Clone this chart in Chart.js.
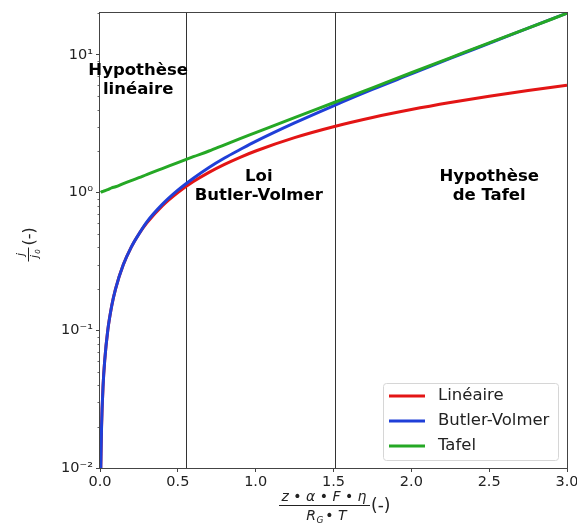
<!DOCTYPE html>
<html>
<head>
<meta charset="utf-8">
<script src="https://cdn.jsdelivr.net/npm/chart.js@4.4.1/dist/chart.umd.min.js"></script>
<style>
  html, body { margin: 0; padding: 0; background: #fff; }
  canvas { display: block; }
</style>
</head>
<body>
<canvas id="chart" width="577" height="525"></canvas>
<script>
// values
const etaValues = [0.005, 0.01, 0.02, 0.03, 0.05, 0.075, 0.1, 0.15, 0.2, 0.25, 0.3, 0.4, 0.5,
  0.6, 0.7, 0.8, 0.9, 1.0, 1.25, 1.5, 1.75, 2.0, 2.25, 2.5, 2.75, 3.0];
const lineaire = [0.01, 0.02, 0.04, 0.06, 0.1, 0.15, 0.2, 0.3, 0.4, 0.5, 0.6, 0.8, 1.0,
  1.2, 1.4, 1.6, 1.8, 2.0, 2.5, 3.0, 3.5, 4.0, 4.5, 5.0, 5.5, 6.0];
const butlerVolmer = [0.01, 0.02, 0.04, 0.06, 0.1, 0.15, 0.2, 0.3, 0.4, 0.5, 0.61, 0.82, 1.04,
  1.27, 1.52, 1.78, 2.05, 2.35, 3.2, 4.26, 5.6, 7.25, 9.4, 12.1, 15.6, 20.0];
const tafel = [1.0, 1.01, 1.02, 1.03, 1.05, 1.08, 1.1, 1.16, 1.22, 1.28, 1.35, 1.49, 1.65,
  1.82, 2.0, 2.22, 2.46, 2.72, 3.5, 4.48, 5.75, 7.4, 9.5, 12.2, 15.6, 20.0];

const seriesLabels = ['Linéaire', 'Butler-Volmer', 'Tafel'];
const seriesColors = ['#e31515', '#1f3fd8', '#25a825'];

const xTicks = [0, 0.5, 1.0, 1.5, 2.0, 2.5, 3.0];
const yDecades = [0.01, 0.1, 1, 10];
const yDecadeLabels = ['10⁻²', '10⁻¹', '10⁰', '10¹'];
const regionBounds = [0.55, 1.51];

// region annotations: [x, y, lines]
const regionNotes = [
  [0.245, 7.6, ['Hypothèse', 'linéaire']],
  [1.02, 1.3, ['Loi', 'Butler-Volmer']],
  [2.5, 1.3, ['Hypothèse', 'de Tafel']]
];

const FONT = '"DejaVu Sans", sans-serif';

function toPoints(ys) {
  return etaValues.map((x, i) => ({ x: x, y: ys[i] }));
}

// red drawn first, then blue, green on top
const datasets = [lineaire, butlerVolmer, tafel].map((ys, i) => ({
  label: seriesLabels[i],
  data: toPoints(ys),
  borderColor: seriesColors[i],
  backgroundColor: seriesColors[i],
  borderWidth: 3,
  pointRadius: 0,
  cubicInterpolationMode: 'monotone',
  fill: false,
  order: 3 - i
}));

// frame, region lines, minor ticks, notes, legend and axis titles
const decorPlugin = {
  id: 'decor',
  beforeDatasetsDraw(chart) {
    const { ctx, chartArea: a, scales: { x } } = chart;
    ctx.save();
    ctx.strokeStyle = '#333';
    ctx.lineWidth = 1;
    regionBounds.forEach(v => {
      const px = Math.round(x.getPixelForValue(v)) + 0.5;
      ctx.beginPath();
      ctx.moveTo(px, a.top);
      ctx.lineTo(px, a.bottom);
      ctx.stroke();
    });
    ctx.restore();
  },
  afterDatasetsDraw(chart) {
    const { ctx, chartArea: a, scales: { x, y } } = chart;
    ctx.save();
    // axes frame
    ctx.strokeStyle = '#444';
    ctx.lineWidth = 1;
    ctx.strokeRect(Math.round(a.left) - 0.5, Math.round(a.top) - 0.5,
      Math.round(a.right - a.left) + 1, Math.round(a.bottom - a.top) + 1);

    // minor log ticks
    ctx.lineWidth = 0.8;
    yDecades.forEach(d => {
      for (let m = 2; m <= 9; m++) {
        const v = d * m;
        if (v > y.max) break;
        const py = Math.round(y.getPixelForValue(v)) + 0.5;
        ctx.beginPath();
        ctx.moveTo(a.left, py);
        ctx.lineTo(a.left - 2.5, py);
        ctx.stroke();
      }
    });

    // region notes
    ctx.fillStyle = '#000';
    ctx.font = 'bold 16.5px ' + FONT;
    ctx.textAlign = 'center';
    ctx.textBaseline = 'middle';
    regionNotes.forEach(([vx, vy, lines]) => {
      const px = x.getPixelForValue(vx);
      const py = y.getPixelForValue(vy);
      lines.forEach((t, i) => ctx.fillText(t, px, py + i * 19));
    });
    ctx.restore();
  },
  afterDraw(chart) {
    const { ctx, chartArea: a } = chart;
    ctx.save();

    // legend box (lower right)
    const bx = 383, by = 383, bw = 175, bh = 77;
    ctx.fillStyle = 'rgba(255,255,255,0.85)';
    ctx.strokeStyle = '#d6d6d6';
    ctx.lineWidth = 1;
    ctx.beginPath();
    ctx.roundRect(bx + 0.5, by + 0.5, bw, bh, 3);
    ctx.fill();
    ctx.stroke();
    ctx.font = '16.5px ' + FONT;
    ctx.textAlign = 'left';
    ctx.textBaseline = 'middle';
    // legend rows follow the series order
    [0, 1, 2].forEach(i => {
      const ds = chart.data.datasets[i];
      const ly = by + 13 + i * 25;
      ctx.strokeStyle = ds.borderColor;
      ctx.lineWidth = 3;
      ctx.beginPath();
      ctx.moveTo(bx + 6, ly);
      ctx.lineTo(bx + 42, ly);
      ctx.stroke();
      ctx.fillStyle = '#222';
      ctx.fillText(ds.label, bx + 55, ly);
    });

    // x axis title: (z·α·F·η)/(R_G·T) (-)
    ctx.fillStyle = '#222';
    const fx = 324, fy = 505;
    ctx.font = 'italic 14px ' + FONT;
    ctx.textAlign = 'center';
    ctx.textBaseline = 'alphabetic';
    ctx.fillText('z • α • F • η', fx, fy - 4);
    ctx.strokeStyle = '#222';
    ctx.lineWidth = 1;
    ctx.beginPath();
    ctx.moveTo(fx - 45, fy + 0.5);
    ctx.lineTo(fx + 46, fy + 0.5);
    ctx.stroke();
    ctx.fillText('R', fx - 13, fy + 15);
    ctx.font = 'italic 9px ' + FONT;
    ctx.fillText('G', fx - 4, fy + 18);
    ctx.font = 'italic 14px ' + FONT;
    ctx.fillText('• T', fx + 12, fy + 15);
    ctx.font = '17px ' + FONT;
    ctx.textAlign = 'left';
    ctx.textBaseline = 'middle';
    ctx.fillText('(-)', fx + 47, fy + 2);

    // y axis title: (j / j0) (-), rotated
    ctx.translate(28, (a.top + a.bottom) / 2 + 4);
    ctx.rotate(-Math.PI / 2);
    ctx.font = 'italic 11px ' + FONT;
    ctx.textAlign = 'center';
    ctx.textBaseline = 'alphabetic';
    ctx.fillText('j', -10, -4);
    ctx.beginPath();
    ctx.moveTo(-17, 0.5);
    ctx.lineTo(-3, 0.5);
    ctx.stroke();
    ctx.fillText('j', -12, 10);
    ctx.font = 'italic 7px ' + FONT;
    ctx.fillText('0', -7, 12);
    ctx.font = '16px ' + FONT;
    ctx.textAlign = 'left';
    ctx.textBaseline = 'middle';
    ctx.fillText('(-)', -1, 2);
    ctx.restore();
  }
};

new Chart(document.getElementById('chart'), {
  type: 'line',
  data: { datasets },
  options: {
    responsive: false,
    animation: false,
    devicePixelRatio: 1,
    layout: { padding: { left: 0, top: 13, right: 10, bottom: 0 } },
    plugins: { legend: { display: false }, tooltip: { enabled: false } },
    scales: {
      x: {
        type: 'linear',
        min: 0,
        max: 3,
        afterBuildTicks(scale) {
          scale.ticks = xTicks.map(v => ({ value: v }));
        },
        afterFit(scale) {
          scale.height = 57;
          scale.paddingLeft = 0;
          scale.paddingRight = 0;
        },
        grid: { drawOnChartArea: false, tickLength: 4, tickColor: '#444' },
        border: { display: false },
        ticks: {
          color: '#222',
          padding: 2,
          maxRotation: 0,
          font: { family: FONT, size: 14.5 },
          callback: v => v.toFixed(1)
        }
      },
      y: {
        type: 'logarithmic',
        min: 0.01,
        max: 20.09,
        afterBuildTicks(scale) {
          scale.ticks = yDecades.map(v => ({ value: v }));
        },
        afterFit(scale) {
          scale.width = 100;
          scale.paddingTop = 0;
          scale.paddingBottom = 0;
        },
        grid: { drawOnChartArea: false, tickLength: 4, tickColor: '#444' },
        border: { display: false },
        ticks: {
          color: '#222',
          padding: 3,
          font: { family: FONT, size: 14.5 },
          callback: v => {
            const i = yDecades.indexOf(v);
            return i >= 0 ? yDecadeLabels[i] : '';
          }
        }
      }
    }
  },
  plugins: [decorPlugin]
});
</script>
</body>
</html>
